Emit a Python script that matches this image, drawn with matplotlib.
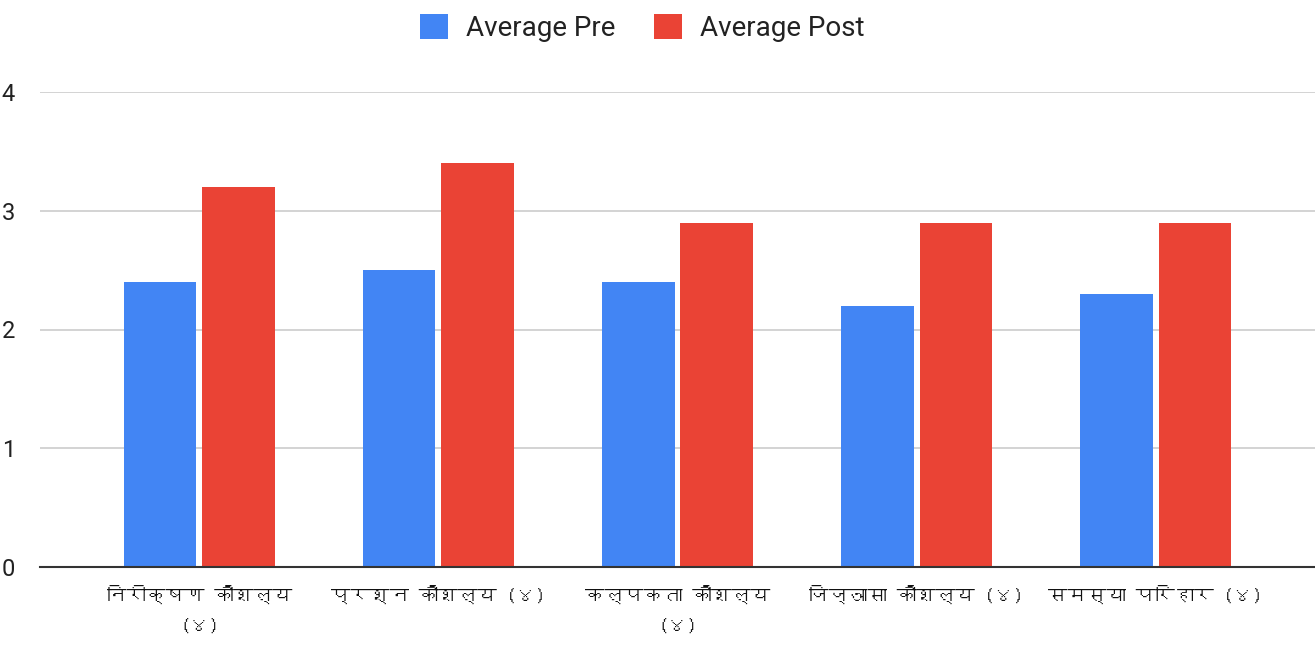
import matplotlib
matplotlib.use("Agg")
import matplotlib.pyplot as plt
from matplotlib import font_manager
import numpy as np

categories = ["निरीक्षण कौशल्य\n(४)", "प्रश्न कौशल्य (४)", "कल्पकता कौशल्य\n(४)",
              "जिज्ञासा कौशल्य (४)", "समस्या परिहार (४)"]
pre_values = [2.4, 2.5, 2.4, 2.2, 2.3]
post_values = [3.2, 3.4, 2.9, 2.9, 2.9]
series_names = ["Average Pre", "Average Post"]
y_ticks = [0, 1, 2, 3, 4]

# find a font with Devanagari glyphs, if any
deva_family = None
try:
    from fontTools.ttLib import TTFont
    for f in font_manager.fontManager.ttflist:
        try:
            tt = TTFont(f.fname, fontNumber=0, lazy=True)
            cmap = tt.getBestCmap()
            if cmap and 0x0915 in cmap and 0x0936 in cmap:
                deva_family = f.name
                break
        except Exception:
            pass
except Exception:
    pass

label_family = ([deva_family] if deva_family else []) + ["DejaVu Sans"]

plt.rcParams['font.family'] = ['Roboto', 'DejaVu Sans']

fig = plt.figure(figsize=(13.15, 6.45), dpi=100)
ax = fig.add_axes([40/1315, 78/645, 1275/1315, 475/645])

x = np.arange(len(categories))
w = 0.305
off = 0.165
b1 = ax.bar(x - off, pre_values, w, color="#4285F4", label=series_names[0], zorder=3)
b2 = ax.bar(x + off, post_values, w, color="#EA4335", label=series_names[1], zorder=3)

ax.set_xlim(-0.667, 4.667)
ax.set_ylim(0, 4)
ax.set_yticks(y_ticks)
ax.set_yticklabels([str(t) for t in y_ticks], fontsize=17, color="#222222")
ax.yaxis.grid(True, color="#cccccc", linewidth=1.2, zorder=0)
ax.set_axisbelow(True)
for s in ["top", "right", "left"]:
    ax.spines[s].set_visible(False)
ax.spines["bottom"].set_color("#333333")
ax.spines["bottom"].set_linewidth(1.5)
ax.spines["bottom"].set_zorder(4)
ax.tick_params(axis="y", length=0, pad=18)
ax.tick_params(axis="x", length=0, pad=13)
ax.set_xticks(x)
ax.set_xticklabels(categories, fontsize=14, color="#111111", family=label_family,
                   linespacing=2.0)

leg = fig.legend(handles=[b1, b2], labels=series_names, loc="center",
                 bbox_to_anchor=(642/1315, 1 - 28/645), ncol=2, frameon=False, fontsize=20,
                 handlelength=1.0, handleheight=1.0, columnspacing=1.4,
                 handletextpad=0.65, labelcolor="#222222")

fig.savefig("out.png", dpi=100)
